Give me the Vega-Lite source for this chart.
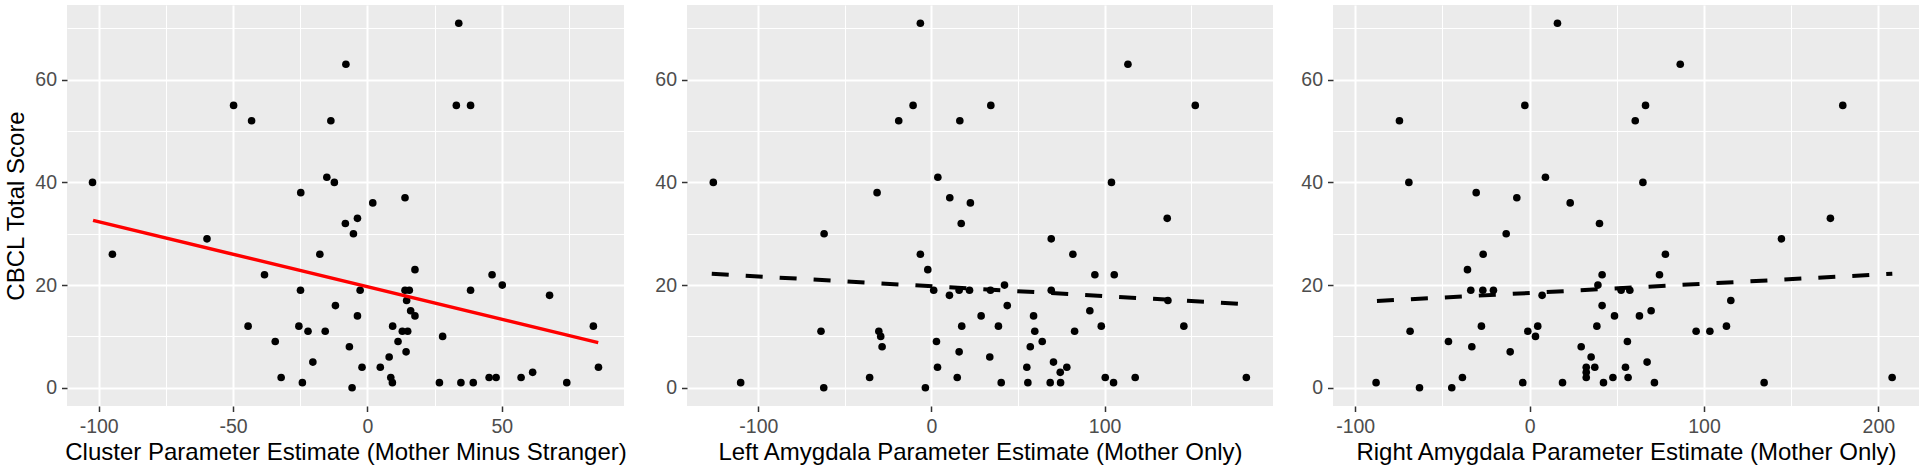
{
  "$schema": "https://vega.github.io/schema/vega-lite/v6.json",
  "padding": {"left": 4, "top": 5, "right": 0, "bottom": 0},
  "background": "white",
  "datasets": {
    "p1": [
      {"x":-102.3,"y":40},{"x":-94.9,"y":26},{"x":-59.7,"y":29},{"x":-49.8,"y":55},{"x":-43.1,"y":52},{"x":-38.3,"y":22},{"x":-44.4,"y":12},{"x":-34.3,"y":9},{"x":-32.1,"y":2},{"x":-24.8,"y":38},{"x":-24.9,"y":19},{"x":-25.5,"y":12},{"x":-24.2,"y":1},{"x":-22.1,"y":11},{"x":-20.3,"y":5},{"x":-17.7,"y":26},{"x":-15.7,"y":11},{"x":-15.1,"y":41},{"x":-13.6,"y":52},{"x":-12.3,"y":40},{"x":-11.9,"y":16},{"x":-8.0,"y":63},{"x":-8.2,"y":32},{"x":-5.2,"y":30},{"x":-3.7,"y":33},{"x":-6.7,"y":8},{"x":-5.7,"y":0},{"x":-2.7,"y":19},{"x":-3.7,"y":14},{"x":-2.0,"y":4},{"x":2.0,"y":36},{"x":14.0,"y":37},{"x":17.7,"y":23},{"x":34.0,"y":71},{"x":33.1,"y":55},{"x":38.4,"y":55},{"x":14.0,"y":19},{"x":15.6,"y":19},{"x":14.6,"y":17},{"x":16.1,"y":15},{"x":17.7,"y":14},{"x":9.4,"y":12},{"x":13.0,"y":11},{"x":15.0,"y":11},{"x":11.4,"y":9},{"x":14.4,"y":7},{"x":8.1,"y":6},{"x":4.8,"y":4},{"x":8.7,"y":2},{"x":9.3,"y":1},{"x":26.8,"y":1},{"x":28.0,"y":10},{"x":34.8,"y":1},{"x":38.4,"y":19},{"x":39.4,"y":1},{"x":45.3,"y":2},{"x":47.9,"y":2},{"x":46.4,"y":22},{"x":50.2,"y":20},{"x":57.2,"y":2},{"x":61.5,"y":3},{"x":67.8,"y":18},{"x":74.2,"y":1},{"x":84.1,"y":12},{"x":86.0,"y":4}
    ],
    "p2": [
      {"x":-126.0,"y":40},{"x":-110.2,"y":1},{"x":-62.0,"y":30},{"x":-63.8,"y":11},{"x":-62.2,"y":0},{"x":-31.4,"y":38},{"x":-30.4,"y":11},{"x":-29.3,"y":10},{"x":-28.5,"y":8},{"x":-35.7,"y":2},{"x":-18.9,"y":52},{"x":-10.6,"y":55},{"x":-6.4,"y":71},{"x":-6.4,"y":26},{"x":-2.1,"y":23},{"x":-3.5,"y":0},{"x":1.3,"y":19},{"x":3.7,"y":41},{"x":2.9,"y":9},{"x":3.5,"y":4},{"x":10.6,"y":37},{"x":10.4,"y":18},{"x":16.4,"y":52},{"x":17.2,"y":32},{"x":16.0,"y":19},{"x":22.0,"y":19},{"x":17.5,"y":12},{"x":16.0,"y":7},{"x":14.9,"y":2},{"x":22.5,"y":36},{"x":28.7,"y":14},
      {"x":34.3,"y":55},{"x":113.5,"y":63},{"x":152.4,"y":55},{"x":104.0,"y":40},{"x":136.2,"y":33},{"x":69.2,"y":29},{"x":81.7,"y":26},{"x":94.4,"y":22},{"x":105.6,"y":22},{"x":34.1,"y":19},{"x":42.2,"y":20},{"x":69.2,"y":19},{"x":43.8,"y":16},{"x":38.7,"y":12},{"x":59.0,"y":14},{"x":91.5,"y":15},{"x":59.7,"y":11},{"x":82.7,"y":11},{"x":98.1,"y":12},{"x":145.8,"y":12},{"x":64.0,"y":9},{"x":57.1,"y":8},{"x":33.7,"y":6},{"x":70.5,"y":5},{"x":55.1,"y":4},{"x":78.2,"y":4},{"x":74.4,"y":3},{"x":40.3,"y":1},{"x":55.7,"y":1},{"x":68.6,"y":1},{"x":74.6,"y":1},{"x":100.4,"y":2},{"x":105.2,"y":1},{"x":117.7,"y":2},{"x":181.9,"y":2},{"x":136.6,"y":17}
    ],
    "p3": [
      {"x":-88.0,"y":1},{"x":-74.6,"y":52},{"x":-69.2,"y":40},{"x":-68.5,"y":11},{"x":-63.1,"y":0},{"x":-46.5,"y":9},{"x":-44.6,"y":0},{"x":-38.5,"y":2},{"x":-35.6,"y":23},{"x":-33.7,"y":19},{"x":-33.1,"y":8},{"x":-30.6,"y":38},{"x":-26.6,"y":26},{"x":-26.8,"y":19},{"x":-27.6,"y":12},{"x":-20.7,"y":19},{"x":-13.4,"y":30},{"x":-11.1,"y":7},{"x":-7.3,"y":37},{"x":-2.7,"y":55},{"x":-3.9,"y":1},{"x":-1.0,"y":11},{"x":3.4,"y":10},{"x":4.7,"y":12},{"x":7.2,"y":18},{"x":9.1,"y":41},{"x":16.0,"y":71},{"x":18.9,"y":1},{"x":23.3,"y":36},{"x":29.6,"y":8},{"x":35.3,"y":6},{"x":32.5,"y":4},{"x":37.4,"y":4},{"x":32.5,"y":3},{"x":32.5,"y":2},{"x":40.1,"y":32},{"x":41.6,"y":22},{"x":39.2,"y":20},{"x":41.6,"y":16},{"x":38.6,"y":12},{"x":42.4,"y":1},{"x":48.7,"y":14},{"x":47.8,"y":2},
      {"x":86.4,"y":63},{"x":66.5,"y":55},{"x":60.6,"y":52},{"x":179.6,"y":55},{"x":65.0,"y":40},{"x":172.5,"y":33},{"x":144.4,"y":29},{"x":77.9,"y":26},{"x":74.5,"y":22},{"x":52.5,"y":19},{"x":57.5,"y":19},{"x":115.4,"y":17},{"x":63.0,"y":14},{"x":69.7,"y":15},{"x":95.5,"y":11},{"x":103.4,"y":11},{"x":112.9,"y":12},{"x":56.1,"y":9},{"x":67.4,"y":5},{"x":55.0,"y":4},{"x":56.5,"y":2},{"x":71.6,"y":1},{"x":134.5,"y":1},{"x":207.9,"y":2}
    ],
    "l1": [{"x":-102.1,"y":32.6},{"x":85.9,"y":8.8}],
    "l2": [{"x":-126.9,"y":22.2},{"x":181.3,"y":16.3}],
    "l3": [{"x":-87.5,"y":16.9},{"x":208.0,"y":22.2}]
  },
  "hconcat": [
    {
      "width": 557, "height": 401,
      "layer": [
        {
          "data": {"name": "p1"},
          "mark": {"type": "circle", "color": "black", "size": 58, "opacity": 1},
          "encoding": {
            "x": {"field": "x", "type": "quantitative",
              "scale": {"domain": [-111.8, 95.5], "nice": false, "zero": false},
              "axis": {"title": "Cluster Parameter Estimate (Mother Minus Stranger)",
                "values": [-100, -75, -50, -25, 0, 25, 50, 75],
                "labelExpr": "datum.value % 50 === 0 ? '' + datum.value : ''",
                "gridWidth": {"condition": {"test": "datum.value % 50 === 0", "value": 2}, "value": 1},
                "tickOpacity": {"condition": {"test": "datum.value % 50 === 0", "value": 1}, "value": 0}}},
            "y": {"field": "y", "type": "quantitative",
              "scale": {"domain": [-3.55, 74.55], "nice": false, "zero": false},
              "axis": {"title": "CBCL Total Score",
                "values": [0, 10, 20, 30, 40, 50, 60, 70],
                "labelExpr": "datum.value % 20 === 0 ? '' + datum.value : ''",
                "gridWidth": {"condition": {"test": "datum.value % 20 === 0", "value": 2}, "value": 1},
                "tickOpacity": {"condition": {"test": "datum.value % 20 === 0", "value": 1}, "value": 0}}}
          }
        },
        {
          "data": {"name": "l1"},
          "mark": {"type": "line", "color": "#FF0000", "strokeWidth": 3.5},
          "encoding": {
            "x": {"field": "x", "type": "quantitative"},
            "y": {"field": "y", "type": "quantitative"}
          }
        }
      ]
    },
    {
      "width": 586, "height": 401,
      "layer": [
        {
          "data": {"name": "p2"},
          "mark": {"type": "circle", "color": "black", "size": 58, "opacity": 1},
          "encoding": {
            "x": {"field": "x", "type": "quantitative",
              "scale": {"domain": [-141.2, 197.3], "nice": false, "zero": false},
              "axis": {"title": "Left Amygdala Parameter Estimate (Mother Only)",
                "values": [-100, -50, 0, 50, 100, 150],
                "labelExpr": "datum.value % 100 === 0 ? '' + datum.value : ''",
                "gridWidth": {"condition": {"test": "datum.value % 100 === 0", "value": 2}, "value": 1},
                "tickOpacity": {"condition": {"test": "datum.value % 100 === 0", "value": 1}, "value": 0}}},
            "y": {"field": "y", "type": "quantitative",
              "scale": {"domain": [-3.55, 74.55], "nice": false, "zero": false},
              "axis": {"title": null,
                "values": [0, 10, 20, 30, 40, 50, 60, 70],
                "labelExpr": "datum.value % 20 === 0 ? '' + datum.value : ''",
                "gridWidth": {"condition": {"test": "datum.value % 20 === 0", "value": 2}, "value": 1},
                "tickOpacity": {"condition": {"test": "datum.value % 20 === 0", "value": 1}, "value": 0}}}
          }
        },
        {
          "data": {"name": "l2"},
          "mark": {"type": "line", "color": "black", "strokeWidth": 4, "strokeDash": [17, 17]},
          "encoding": {
            "x": {"field": "x", "type": "quantitative"},
            "y": {"field": "y", "type": "quantitative"}
          }
        }
      ]
    },
    {
      "width": 586, "height": 401,
      "layer": [
        {
          "data": {"name": "p3"},
          "mark": {"type": "circle", "color": "black", "size": 58, "opacity": 1},
          "encoding": {
            "x": {"field": "x", "type": "quantitative",
              "scale": {"domain": [-112.7, 223.3], "nice": false, "zero": false},
              "axis": {"title": "Right Amygdala Parameter Estimate (Mother Only)",
                "values": [-100, -50, 0, 50, 100, 150, 200],
                "labelExpr": "datum.value % 100 === 0 ? '' + datum.value : ''",
                "gridWidth": {"condition": {"test": "datum.value % 100 === 0", "value": 2}, "value": 1},
                "tickOpacity": {"condition": {"test": "datum.value % 100 === 0", "value": 1}, "value": 0}}},
            "y": {"field": "y", "type": "quantitative",
              "scale": {"domain": [-3.55, 74.55], "nice": false, "zero": false},
              "axis": {"title": null,
                "values": [0, 10, 20, 30, 40, 50, 60, 70],
                "labelExpr": "datum.value % 20 === 0 ? '' + datum.value : ''",
                "gridWidth": {"condition": {"test": "datum.value % 20 === 0", "value": 2}, "value": 1},
                "tickOpacity": {"condition": {"test": "datum.value % 20 === 0", "value": 1}, "value": 0}}}
          }
        },
        {
          "data": {"name": "l3"},
          "mark": {"type": "line", "color": "black", "strokeWidth": 4, "strokeDash": [17, 17]},
          "encoding": {
            "x": {"field": "x", "type": "quantitative"},
            "y": {"field": "y", "type": "quantitative"}
          }
        }
      ]
    }
  ],
  "config": {
    "font": "Liberation Sans",
    "view": {"fill": "#EBEBEB", "stroke": null},
    "concat": {"spacing": 27},
    "axis": {
      "domain": false,
      "gridColor": "white",
      "gridOpacity": 1,
      "tickColor": "#333333",
      "tickSize": 5.5,
      "tickWidth": 1.5,
      "labelColor": "#4D4D4D",
      "labelFont": "Liberation Sans",
      "labelFontSize": 19.5,
      "labelOverlap": false,
      "labelFlush": false,
      "titleFont": "Liberation Sans",
      "titleFontSize": 24,
      "titleFontWeight": "normal",
      "titleColor": "black"
    },
    "axisX": {"labelPadding": 6.4, "titlePadding": 4},
    "axisY": {"labelPadding": 5, "titlePadding": 6.5}
  }
}
